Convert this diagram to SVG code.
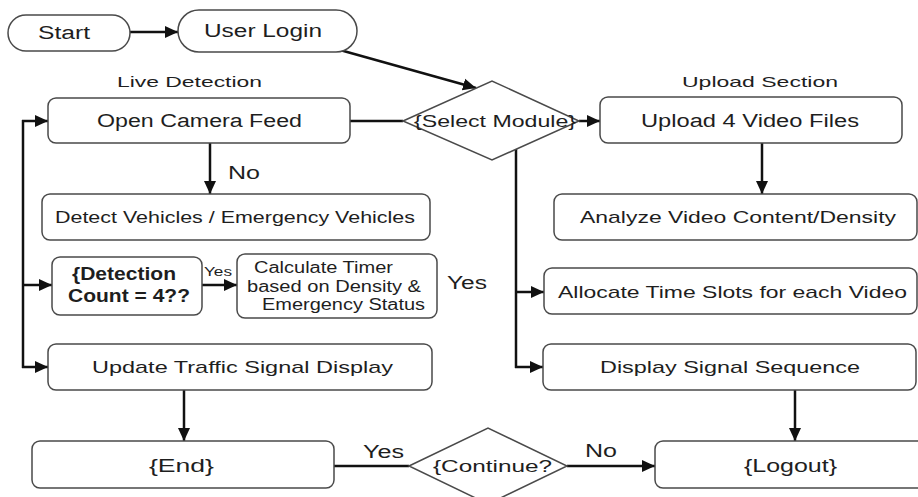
<svg xmlns="http://www.w3.org/2000/svg" width="918" height="497" viewBox="0 0 918 497">
<defs>
<marker id="ah" markerUnits="userSpaceOnUse" markerWidth="14" markerHeight="14" viewBox="0 0 14 14" refX="13" refY="7" orient="auto">
<path d="M0,1 L13,7 L0,13 Z" fill="#111"/>
</marker>
<style>
.box{fill:#fff;stroke:#4a4a4a;stroke-width:1.5}
.t{font-family:"Liberation Sans",Arial,sans-serif;fill:#1e1e1e}
.c{fill:none;stroke:#111;stroke-width:2.5}
.a{marker-end:url(#ah)}
</style>
</defs>
<rect width="918" height="497" fill="#fff"/>
<g id="connectors">
<line class="c a" x1="130" y1="32" x2="178" y2="32"/>
<line class="c a" x1="340" y1="50" x2="476" y2="88"/>
<line class="c" x1="350" y1="121" x2="403" y2="121"/>
<line class="c a" x1="579" y1="121" x2="600" y2="121"/>
<line class="c a" x1="762" y1="143" x2="762" y2="194"/>
<line class="c a" x1="210" y1="143" x2="210" y2="194"/>
<line class="c a" x1="202" y1="285" x2="237" y2="285"/>
<line class="c" x1="23" y1="120" x2="23" y2="368"/>
<line class="c a" x1="22" y1="121" x2="48" y2="121"/>
<line class="c a" x1="22" y1="285" x2="52" y2="285"/>
<line class="c a" x1="22" y1="367" x2="48" y2="367"/>
<line class="c" x1="516" y1="149" x2="516" y2="368"/>
<line class="c a" x1="515" y1="292" x2="544" y2="292"/>
<line class="c a" x1="515" y1="367" x2="543" y2="367"/>
<line class="c a" x1="184" y1="390" x2="184" y2="441"/>
<line class="c" x1="334" y1="466" x2="409" y2="466"/>
<line class="c a" x1="567" y1="466" x2="655" y2="466"/>
<line class="c a" x1="795" y1="390" x2="795" y2="441"/>
<text class="t" x="228" y="179" font-size="18" textLength="32" lengthAdjust="spacingAndGlyphs">No</text>
<text class="t" x="204" y="276" font-size="12" textLength="28" lengthAdjust="spacingAndGlyphs">Yes</text>
<text class="t" x="447" y="289" font-size="18" textLength="40" lengthAdjust="spacingAndGlyphs">Yes</text>
<text class="t" x="363" y="458" font-size="18" textLength="41" lengthAdjust="spacingAndGlyphs">Yes</text>
<text class="t" x="585" y="457" font-size="18" textLength="32" lengthAdjust="spacingAndGlyphs">No</text>
</g>
<g id="start">
<rect class="box" x="8" y="15" width="122" height="36" rx="18"/>
<text class="t" x="38" y="39" font-size="18" textLength="52" lengthAdjust="spacingAndGlyphs">Start</text>
</g>
<g id="user-login">
<rect class="box" x="178" y="10" width="179" height="42" rx="21"/>
<text class="t" x="204" y="37" font-size="18" textLength="118" lengthAdjust="spacingAndGlyphs">User Login</text>
</g>
<g id="label-live">
<text class="t" x="117" y="87" font-size="15" textLength="145" lengthAdjust="spacingAndGlyphs">Live Detection</text>
</g>
<g id="label-upload">
<text class="t" x="682" y="87" font-size="15" textLength="156" lengthAdjust="spacingAndGlyphs">Upload Section</text>
</g>
<g id="open-camera">
<rect class="box" x="48" y="98" width="302" height="45" rx="8"/>
<text class="t" x="97" y="127" font-size="18" textLength="205" lengthAdjust="spacingAndGlyphs">Open Camera Feed</text>
</g>
<g id="select-module">
<polygon class="box" points="403,121 492,81 579,121 492,160"/>
<text class="t" x="414" y="127" font-size="17" textLength="162" lengthAdjust="spacingAndGlyphs">{Select Module}</text>
</g>
<g id="upload-files">
<rect class="box" x="600" y="97" width="302" height="46" rx="8"/>
<text class="t" x="641" y="127" font-size="18" textLength="218" lengthAdjust="spacingAndGlyphs">Upload 4 Video Files</text>
</g>
<g id="detect-vehicles">
<rect class="box" x="42" y="194" width="388" height="46" rx="8"/>
<text class="t" x="55" y="223" font-size="17" textLength="360" lengthAdjust="spacingAndGlyphs">Detect Vehicles / Emergency Vehicles</text>
</g>
<g id="analyze">
<rect class="box" x="554" y="194" width="363" height="46" rx="8"/>
<text class="t" x="580" y="223" font-size="17" textLength="316" lengthAdjust="spacingAndGlyphs">Analyze Video Content/Density</text>
</g>
<g id="detection-count">
<rect class="box" x="52" y="257" width="150" height="58" rx="8"/>
<text class="t" x="72" y="280" font-size="18" font-weight="bold" textLength="104" lengthAdjust="spacingAndGlyphs">{Detection</text>
<text class="t" x="68" y="302" font-size="18" font-weight="bold" textLength="122" lengthAdjust="spacingAndGlyphs">Count = 4??</text>
</g>
<g id="calculate-timer">
<rect class="box" x="237" y="254" width="200" height="64" rx="8"/>
<text class="t" x="254" y="273" font-size="16" textLength="139" lengthAdjust="spacingAndGlyphs">Calculate Timer</text>
<text class="t" x="247" y="292" font-size="16" textLength="174" lengthAdjust="spacingAndGlyphs">based on Density &amp;</text>
<text class="t" x="262" y="310" font-size="16" textLength="163" lengthAdjust="spacingAndGlyphs">Emergency Status</text>
</g>
<g id="allocate">
<rect class="box" x="544" y="268" width="373" height="46" rx="8"/>
<text class="t" x="558" y="298" font-size="17" textLength="349" lengthAdjust="spacingAndGlyphs">Allocate Time Slots for each Video</text>
</g>
<g id="update-display">
<rect class="box" x="48" y="344" width="384" height="46" rx="8"/>
<text class="t" x="92" y="373" font-size="17" textLength="301" lengthAdjust="spacingAndGlyphs">Update Traffic Signal Display</text>
</g>
<g id="display-sequence">
<rect class="box" x="543" y="344" width="373" height="46" rx="8"/>
<text class="t" x="600" y="373" font-size="17" textLength="260" lengthAdjust="spacingAndGlyphs">Display Signal Sequence</text>
</g>
<g id="end">
<rect class="box" x="32" y="441" width="302" height="47" rx="8"/>
<text class="t" x="149" y="472" font-size="18" textLength="65" lengthAdjust="spacingAndGlyphs">{End}</text>
</g>
<g id="continue">
<polygon class="box" points="409,466 488,428 567,466 488,504"/>
<text class="t" x="433" y="472" font-size="17" textLength="119" lengthAdjust="spacingAndGlyphs">{Continue?</text>
</g>
<g id="logout">
<rect class="box" x="655" y="441" width="275" height="47" rx="8"/>
<text class="t" x="744" y="472" font-size="18" textLength="93" lengthAdjust="spacingAndGlyphs">{Logout}</text>
</g>
</svg>
